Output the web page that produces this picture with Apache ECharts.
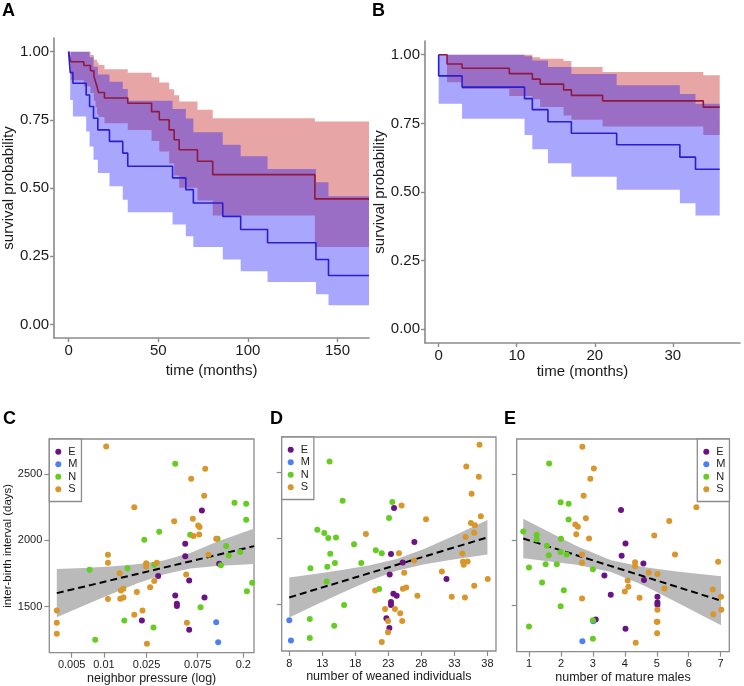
<!DOCTYPE html>
<html><head><meta charset="utf-8">
<script src="https://cdn.jsdelivr.net/npm/echarts@6/dist/echarts.min.js"></script>
<style>html,body{margin:0;padding:0;background:#fff}#c{width:744px;height:686px}</style>
</head><body><div id="c"></div><script>
// ---------- Panel A (Kaplan-Meier, time in months) ----------
const A_red_t  = [0, 1.1, 8.5, 12.2, 14.1, 15, 15.9, 16.7, 20, 33, 46.3, 50.6, 56.1, 58.9, 61.7, 71.9, 80.4, 137.4, 167.6];
const A_red_s  = [1, 0.963, 0.949, 0.93, 0.911, 0.89, 0.87, 0.85, 0.83, 0.811, 0.78, 0.75, 0.713, 0.677, 0.64, 0.598, 0.549, 0.46, 0.46];
const A_red_up = [1, 1, 1, 0.988, 0.97, 0.97, 0.96, 0.951, 0.935, 0.923, 0.906, 0.887, 0.862, 0.84, 0.817, 0.787, 0.756, 0.744, 0.744];
const A_red_lo = [1, 0.895, 0.872, 0.848, 0.82, 0.795, 0.77, 0.76, 0.737, 0.713, 0.672, 0.634, 0.59, 0.546, 0.501, 0.454, 0.399, 0.284, 0.284];
const A_blue_t  = [0, 0.9, 2.4, 9.8, 11.7, 13.9, 16.3, 22.8, 30.2, 33, 58, 65.4, 69.6, 86, 96, 111, 138, 145, 167.6];
const A_blue_s  = [1, 0.923, 0.884, 0.841, 0.799, 0.756, 0.713, 0.671, 0.628, 0.58, 0.537, 0.494, 0.445, 0.396, 0.348, 0.299, 0.238, 0.179, 0.179];
const A_blue_up = [1, 1, 1, 1, 0.979, 0.945, 0.916, 0.89, 0.863, 0.82, 0.79, 0.755, 0.704, 0.659, 0.616, 0.57, 0.521, 0.47, 0.47];
const A_blue_lo = [1, 0.823, 0.762, 0.707, 0.652, 0.604, 0.555, 0.506, 0.457, 0.411, 0.366, 0.323, 0.284, 0.238, 0.195, 0.155, 0.11, 0.07, 0.07];
const A_ticks = [0, 50, 100, 150];

// ---------- Panel B ----------
const B_red_t  = [0, 1.07, 3, 9.05, 12, 13, 16, 17, 21, 33.9, 36];
const B_red_s  = [1, 0.966, 0.951, 0.931, 0.911, 0.893, 0.872, 0.852, 0.832, 0.809, 0.809];
const B_red_up = [1, 1, 1, 1, 0.991, 0.985, 0.977, 0.955, 0.937, 0.925, 0.925];
const B_red_lo = [1, 0.9, 0.875, 0.85, 0.838, 0.81, 0.779, 0.763, 0.739, 0.708, 0.708];
const B_blue_t  = [0, 0, 3, 11, 12, 14, 17, 22.8, 30.9, 32.9, 36];
const B_blue_s  = [1, 0.923, 0.882, 0.84, 0.8, 0.756, 0.714, 0.672, 0.627, 0.583, 0.583];
const B_blue_up = [1, 1, 1, 0.994, 0.979, 0.955, 0.93, 0.889, 0.857, 0.821, 0.821];
const B_blue_lo = [1, 0.821, 0.767, 0.708, 0.656, 0.605, 0.556, 0.508, 0.459, 0.414, 0.414];
const B_ticks = [0, 10, 20, 30];
const surv_ticks = [0, 0.25, 0.5, 0.75, 1];

// ---------- Panel C (neighbor pressure, log axis) ----------
const C_ticks = [0.005, 0.01, 0.025, 0.075, 0.2];
const C_E_x = [0.0821,0.0574,0.0574,0.0321,0.0625,0.0463,0.0480,0.0480,0.0869,0.1191,0.0226,0.0625];
const C_E_y = [2227,1975,1881,1730,1697,1583,1520,1503,1568,1823,1394,1323];
const C_M_x = [0.1117,0.1166];
const C_M_y = [1381,1230];
const C_N_x = [0.0463,0.1656,0.2129,0.2129,0.0328,0.0238,0.0639,0.115,0.1384,0.1466,0.2529,0.1871,0.1235,0.0295,0.0166,0.00734,0.216,0.2422,0.0798,0.0155,0.0290,0.00829];
const C_N_y = [2581,2285,2278,2157,2066,2005,2043,2013,1957,1886,1891,1912,1813,1816,1790,1778,1616,1679,1495,1394,1341,1248];
const C_S_x = [0.0105,0.0192,0.0453,0.0653,0.0882,0.0863,0.0676,0.0144,0.0759,0.0781,0.0686,0.0775,0.1117,0.0947,0.0109,0.0109,0.0248,0.0248,0.0312,0.0140,0.0586,0.0295,0.0270,0.0152,0.0142,0.0152,0.0203,0.0109,0.0229,0.0192,0.00363,0.00363,0.0595,0.00363,0.0252];
const C_S_y = [2712,2252,2146,2467,2543,2338,2164,1621,2114,2101,2033,2045,2013,1891,1891,1831,1828,1803,1831,1752,1742,1692,1646,1634,1558,1568,1609,1556,1470,1437,1470,1376,1376,1293,1217];
const C_fit_x = [0.00363, 0.2529];
const C_fit_y = [1601, 1957];
const C_band_x  = [0.00363,0.00645,0.01144,0.0203,0.036,0.0639,0.1134,0.2529];
const C_band_up = [1783,1792,1803,1820,1848,1905,1990,2090];
const C_band_lo = [1419,1506,1591,1674,1743,1787,1807,1822];

// ---------- Panel D (number of weaned individuals) ----------
const D_ticks = [8, 13, 18, 23, 28, 33, 38];
const D_E_x = [23.86,26.94,23.4,25.17,23.2,23.76,24.26,23.4,23.4,22.7,23.15,31.8];
const D_E_y = [2231,1974,1883,1820,1729,1583,1568,1520,1497,1397,1324,1694];
const D_M_x = [8.0,8.25];
const D_M_y = [1382,1230];
const D_N_x = [14.1,16.08,12.24,13.3,13.9,15.07,17.8,14.2,21.1,22.0,14.9,11.2,13.76,18.9,13.66,21.6,16.3,11.1,14.8,11.1,23.6,23.1];
const D_N_y = [2583,2286,2067,2042,2004,2009,1958,1885,1911,1890,1815,1775,1787,1815,1676,1618,1497,1392,1341,1248,2276,2155];
const D_S_x = [36.8,34.8,36.7,35.6,37.0,25.0,28.7,19.6,35.5,36.1,34.7,36.0,34.2,34.3,35.0,34.4,24.6,26.9,25.4,31.1,38.05,36.0,21.0,25.7,25.2,27.4,32.6,34.6,22.5,24.0,24.8,22.95,25.1,22.95,22.0];
const D_S_y = [2709,2545,2467,2339,2168,2251,2147,2034,2117,2100,2011,2044,1888,1825,1827,1802,1890,1835,1742,1752,1694,1644,1608,1631,1621,1568,1560,1555,1467,1467,1435,1377,1377,1291,1218];
const D_fit_x = [8, 38];
const D_fit_y = [1555, 2009];
const D_band_x  = [8,12.14,16.18,20.22,24.26,28.3,32.34,38];
const D_band_up = [1706,1734,1764,1798,1846,1920,2008,2140];
const D_band_lo = [1404,1502,1595,1683,1756,1804,1838,1880];

// ---------- Panel E (number of mature males) ----------
const E_ticks = [1, 2, 3, 4, 5, 6, 7];
const E_E_x = [3.88,4.02,3.9,4.58,3.36,4.6,3.56,5.02,5.02,5.02,3.09,4.02];
const E_E_y = [2228,1974,1880,1820,1729,1696,1583,1568,1525,1508,1394,1324];
const E_M_x = [3.01,2.67];
const E_M_y = [1382,1230];
const E_N_x = [1.63,1.99,2.24,2.24,0.82,1.24,1.24,2.0,1.56,1.62,1.99,2.18,1.0,1.87,1.52,3.0,1.41,2.09,1.99,3.0,1.0,3.0];
const E_N_y = [2581,2286,2276,2155,2064,2039,2004,2009,1956,1883,1908,1890,1790,1815,1815,1777,1676,1618,1495,1389,1341,1248];
const E_S_x = [2.67,3.03,2.92,2.71,2.78,2.45,2.53,2.48,2.88,2.66,2.66,2.66,6.24,5.39,4.92,5.57,4.32,4.32,4.75,5.02,4.09,4.11,4.0,4.46,5.24,6.92,6.75,7.01,7.02,6.77,5.02,5.02,5.01,4.34,5.0];
const E_S_y = [2709,2543,2465,2336,2165,2117,2100,2044,2011,1890,1827,1555,2248,2145,2034,1890,1830,1800,1752,1742,1691,1644,1608,1560,1631,1835,1623,1568,1470,1435,1470,1377,1291,1218,1377];
const E_fit_x = [0.82, 7.01];
const E_fit_y = [2011, 1538];
const E_band_x  = [0.82,1.66,2.49,3.57,4.58,5.62,7.01];
const E_band_up = [2162,2057,1955,1846,1794,1761,1724];
const E_band_lo = [1860,1837,1811,1756,1655,1527,1352];

const ibi_ticks = [1500, 2000, 2500];
const groups = ['E', 'M', 'N', 'S'];
const groupColors = {E: '#6b1285', M: '#4d7ff5', N: '#66cc22', S: '#d8962b'};

// ---------- helpers ----------
const FONT = '"Liberation Sans", Arial, sans-serif';
const zip = (xs, ys, f) => xs.map((x, i) => [f ? f(x) : x, ys[i]]);
function stepBandPts(t, lo, up) {
  const p = [];
  for (let i = 0; i < t.length - 1; i++) { p.push([t[i], up[i]]); p.push([t[i + 1], up[i]]); }
  for (let i = t.length - 2; i >= 0; i--) { p.push([t[i + 1], lo[i]]); p.push([t[i], lo[i]]); }
  return p;
}
function smoothBandPts(x, lo, up, f) {
  const p = [];
  for (let i = 0; i < x.length; i++) p.push([f ? f(x[i]) : x[i], up[i]]);
  for (let i = x.length - 1; i >= 0; i--) p.push([f ? f(x[i]) : x[i], lo[i]]);
  return p;
}
function polySeries(idx, pts, fill, z) {
  return {
    type: 'custom', xAxisIndex: idx, yAxisIndex: idx, silent: true, z: z, clip: true,
    data: [pts[0]],
    renderItem: (params, api) => ({
      type: 'polygon',
      shape: { points: pts.map(p => api.coord(p)) },
      style: { fill: fill }
    })
  };
}
function stepLine(idx, t, s, color) {
  return {
    type: 'line', xAxisIndex: idx, yAxisIndex: idx, step: 'end', symbol: 'none', silent: true, z: 5,
    data: zip(t, s), lineStyle: { color: color, width: 1.6 }
  };
}
function fitLine(idx, xs, ys, f) {
  return {
    type: 'line', xAxisIndex: idx, yAxisIndex: idx, symbol: 'none', silent: true, z: 4,
    data: zip(xs, ys, f), lineStyle: { color: '#000', width: 2, type: [7, 4] }
  };
}
function scatterSeries(idx, name, xs, ys, f) {
  return {
    type: 'scatter', name: name, xAxisIndex: idx, yAxisIndex: idx, z: 6,
    symbol: 'circle', symbolSize: 6, data: zip(xs, ys, f),
    itemStyle: { color: groupColors[name], opacity: 1 }
  };
}
const log10 = v => Math.log10(v);

const GRAY = '#8a8a8a';
function survX(idx, min, max, ticks) {
  return {
    gridIndex: idx, type: 'value', min: min, max: max,
    axisLine: { onZero: false, lineStyle: { color: GRAY, width: 1.6 } },
    axisTick: { customValues: ticks, length: 4, lineStyle: { color: GRAY, width: 1.4 } },
    axisLabel: { customValues: ticks, fontSize: 15, color: '#1a1a1a', margin: 5, fontFamily: FONT },
    splitLine: { show: false },
    name: 'time (months)', nameLocation: 'middle', nameGap: idx === 0 ? 25 : 21,
    nameTextStyle: { fontSize: 15, color: '#1a1a1a', fontFamily: FONT }
  };
}
function survY(idx, gap) {
  return {
    gridIndex: idx, type: 'value', min: -0.05, max: 1.05,
    axisLine: { onZero: false, lineStyle: { color: GRAY, width: 1.6 } },
    axisTick: { customValues: surv_ticks, length: 4, lineStyle: { color: GRAY, width: 1.4 } },
    axisLabel: { customValues: surv_ticks, fontSize: 15, color: '#1a1a1a', margin: 5, fontFamily: FONT,
                 formatter: v => v.toFixed(2) },
    splitLine: { show: false },
    name: 'survival probability', nameLocation: 'middle', nameGap: gap,
    nameTextStyle: { fontSize: 15, color: '#1a1a1a', fontFamily: FONT }
  };
}
const BOX = '#8c8c8c';
function sx(idx, min, max, ticks, name, fmt) {
  return {
    gridIndex: idx, type: 'value', min: min, max: max,
    axisLine: { show: false, onZero: false },
    axisTick: { customValues: ticks, length: 5, lineStyle: { color: BOX, width: 1.2 } },
    axisLabel: { customValues: ticks, fontSize: 11, color: '#1a1a1a', margin: 7, fontFamily: FONT,
                 formatter: fmt || (v => String(v)) },
    splitLine: { show: false },
    name: name, nameLocation: 'middle', nameGap: 19,
    nameTextStyle: { fontSize: 12.5, color: '#1a1a1a', fontFamily: FONT }
  };
}
function sy(idx, showLabel) {
  return {
    gridIndex: idx, type: 'value', min: 1150, max: 2768,
    axisLine: { show: false, onZero: false },
    axisTick: { customValues: ibi_ticks, length: 5, lineStyle: { color: BOX, width: 1.2 } },
    axisLabel: { show: showLabel, customValues: ibi_ticks, fontSize: 11, color: '#1a1a1a', margin: 7, fontFamily: FONT,
                 formatter: v => String(v) },
    splitLine: { show: false },
    name: showLabel ? 'inter-birth interval (days)' : '', nameLocation: 'middle', nameGap: 35,
    nameTextStyle: { fontSize: 11.5, color: '#1a1a1a', fontFamily: FONT }
  };
}
function legendAt(left, top) {
  return {
    data: groups, left: left, top: top, orient: 'vertical', icon: 'circle',
    itemWidth: 6, itemHeight: 6, itemGap: 0, selectedMode: false,
    padding: [6.5, 4, 6, 6], backgroundColor: '#fff', borderColor: BOX, borderWidth: 1.3, borderRadius: 0,
    textStyle: { fontSize: 11, lineHeight: 12.5, color: '#1a1a1a', fontFamily: FONT, padding: [0, 0, 0, 2] }
  };
}
const RED_BAND = 'rgba(200,40,40,0.42)';
const BLUE_BAND = 'rgba(30,20,250,0.38)';
const RED_LINE = '#8e1840';
const BLUE_LINE = '#2a1ed0';
const GREY_BAND = '#bababa';

const series = [
  polySeries(0, stepBandPts(A_red_t, A_red_lo, A_red_up), RED_BAND, 1),
  polySeries(0, stepBandPts(A_blue_t, A_blue_lo, A_blue_up), BLUE_BAND, 2),
  stepLine(0, A_red_t, A_red_s, RED_LINE),
  stepLine(0, A_blue_t, A_blue_s, BLUE_LINE),
  polySeries(1, stepBandPts(B_red_t, B_red_lo, B_red_up), RED_BAND, 1),
  polySeries(1, stepBandPts(B_blue_t, B_blue_lo, B_blue_up), BLUE_BAND, 2),
  stepLine(1, B_red_t, B_red_s, RED_LINE),
  stepLine(1, B_blue_t, B_blue_s, BLUE_LINE),
  polySeries(2, smoothBandPts(C_band_x, C_band_lo, C_band_up, log10), GREY_BAND, 1),
  fitLine(2, C_fit_x, C_fit_y, log10),
  scatterSeries(2, 'E', C_E_x, C_E_y, log10),
  scatterSeries(2, 'M', C_M_x, C_M_y, log10),
  scatterSeries(2, 'N', C_N_x, C_N_y, log10),
  scatterSeries(2, 'S', C_S_x, C_S_y, log10),
  polySeries(3, smoothBandPts(D_band_x, D_band_lo, D_band_up), GREY_BAND, 1),
  fitLine(3, D_fit_x, D_fit_y),
  scatterSeries(3, 'E', D_E_x, D_E_y),
  scatterSeries(3, 'M', D_M_x, D_M_y),
  scatterSeries(3, 'N', D_N_x, D_N_y),
  scatterSeries(3, 'S', D_S_x, D_S_y),
  polySeries(4, smoothBandPts(E_band_x, E_band_lo, E_band_up), GREY_BAND, 1),
  fitLine(4, E_fit_x, E_fit_y),
  scatterSeries(4, 'E', E_E_x, E_E_y),
  scatterSeries(4, 'M', E_M_x, E_M_y),
  scatterSeries(4, 'N', E_N_x, E_N_y),
  scatterSeries(4, 'S', E_S_x, E_S_y)
];

const cTickLog = C_ticks.map(log10);
const cFmt = v => { for (let i = 0; i < cTickLog.length; i++) if (Math.abs(v - cTickLog[i]) < 1e-6) return String(C_ticks[i]); return ''; };

const letter = (t, x, y) => ({ type: 'text', left: x, top: y, silent: true,
  style: { text: t, font: 'bold 18px ' + FONT, fill: '#000' } });

const option = {
  animation: false,
  backgroundColor: '#fff',
  grid: [
    { left: 52.7, top: 38, width: 316.3, height: 300 },
    { left: 425, top: 41, width: 315, height: 302 },
    { left: 49.3, top: 439, width: 204.7, height: 213.7, show: true, borderColor: BOX, borderWidth: 1.3, backgroundColor: 'transparent' },
    { left: 281.7, top: 437, width: 214.3, height: 214, show: true, borderColor: BOX, borderWidth: 1.3, backgroundColor: 'transparent' },
    { left: 516.7, top: 439, width: 212.6, height: 212.7, show: true, borderColor: BOX, borderWidth: 1.3, backgroundColor: 'transparent' }
  ],
  xAxis: [
    survX(0, -8.1, 167.6, A_ticks),
    survX(1, -1.75, 38.6, B_ticks),
    sx(2, Math.log10(0.00309), Math.log10(0.2518), cTickLog, 'neighbor pressure (log)', cFmt),
    sx(3, 6.85, 39.3, D_ticks, 'number of weaned individuals'),
    sx(4, 0.615, 7.27, E_ticks, 'number of mature males')
  ],
  yAxis: [ survY(0, 30), survY(1, 31.5), sy(2, true), sy(3, false), sy(4, false) ],
  legend: [ legendAt(49.3, 439), legendAt(281.7, 437), legendAt(697.3, 439) ],
  graphic: [ letter('A', 2, 2), letter('B', 372, 2), letter('C', 3, 410), letter('D', 270, 410), letter('E', 504, 410) ],
  series: series
};
const chart = echarts.init(document.getElementById('c'));
chart.setOption(option);
</script></body></html>
